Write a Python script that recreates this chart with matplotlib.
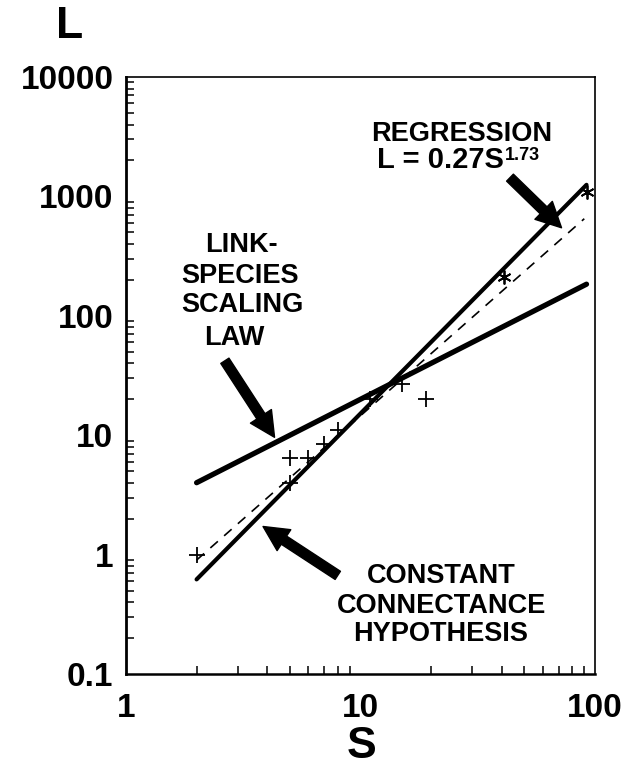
import matplotlib.pyplot as plt
from matplotlib.patches import FancyArrowPatch
from matplotlib.ticker import FixedLocator, LogLocator, NullFormatter

plt.rcParams['font.family'] = ['Liberation Sans', 'DejaVu Sans']
plt.rcParams['font.weight'] = 'bold'

# food webs, S species and L links (plus markers)
webs_s = [2, 5, 5, 6, 7, 8, 11, 15, 19]
webs_l = [1, 4, 6.5, 6.5, 8.5, 11, 20, 27, 20]
# the two big webs (asterisks)
big_s = [41, 92]
big_l = [210, 1080]

# model lines, end points
line_s = [2, 92]
link_species_l = [4, 184]
const_conn_l = [0.62, 1250]
regr_s = [2, 90]
regr_l = [0.9, 650]

x_ticks = [1, 10, 100]
x_labels = ['1', '10', '100']
y_ticks = [0.1, 1, 10, 100, 1000, 10000]
y_labels = ['0.1', '1', '10', '100', '1000', '10000']

W, H = 625, 772


def px(x, y):
    # pixel position -> figure fraction
    return x / W, 1 - y / H


fig = plt.figure(figsize=(W / 100, H / 100), dpi=100)
ax = fig.add_axes([126 / W, 1 - 674 / H, (595 - 126) / W, (674 - 77) / H])
ax.set_xscale('log')
ax.set_yscale('log')
ax.set_xlim(1, 100)
ax.set_ylim(0.1, 10000)

ax.plot(line_s, link_species_l, color='black', lw=3.8, solid_capstyle='round')
ax.plot(line_s, const_conn_l, color='black', lw=3.0, solid_capstyle='round')
ax.plot(regr_s, regr_l, color='black', lw=1.2, dashes=(6, 5))
ax.plot(webs_s, webs_l, ls='none', marker='+', ms=11, mew=1.3, color='black')
ax.plot(big_s, big_l, ls='none', marker=(6, 2, 0), ms=10, mew=1.3, color='black')

# arrows pointing at the lines
arrow_style = 'simple,head_length=18,head_width=18,tail_width=7'
for tail, tip in [((2.64, 42), (4.3, 9.6)),
                  ((8.0, 0.67), (3.84, 1.72)),
                  ((43.4, 1436), (72, 546))]:
    ax.add_patch(FancyArrowPatch(tail, tip, arrowstyle=arrow_style,
                                 mutation_scale=1, color='black',
                                 shrinkA=0, shrinkB=0))

ax.xaxis.set_major_locator(FixedLocator(x_ticks))
ax.set_xticklabels(x_labels)
ax.yaxis.set_major_locator(FixedLocator(y_ticks))
ax.set_yticklabels(y_labels)
ax.xaxis.set_minor_locator(LogLocator(base=10, subs=range(2, 10)))
ax.yaxis.set_minor_locator(LogLocator(base=10, subs=range(2, 10), numticks=20))
ax.xaxis.set_minor_formatter(NullFormatter())
ax.yaxis.set_minor_formatter(NullFormatter())
ax.tick_params(which='major', length=0, labelsize=24)
ax.tick_params(axis='x', which='major', pad=14)
ax.tick_params(axis='y', which='major', pad=9)
ax.tick_params(which='minor', direction='in', length=6, width=1.1,
               top=False, right=False)
for side, lw in [('left', 2.0), ('bottom', 1.8), ('top', 1.2), ('right', 1.2)]:
    ax.spines[side].set_linewidth(lw)

fig.text(*px(70, 26), 'L', fontsize=32, ha='center', va='center')
fig.text(*px(362, 746), 'S', fontsize=32, ha='center', va='center')

fs = 19.5
for txt, x, y in [('LINK-', 241, 245), ('SPECIES', 240, 276),
                  ('SCALING', 242, 305), ('LAW', 234, 338),
                  ('REGRESSION', 462, 134),
                  ('CONSTANT', 441, 576), ('CONNECTANCE', 441, 606),
                  ('HYPOTHESIS', 441, 634)]:
    fig.text(*px(x, y), txt, fontsize=fs, ha='center', va='center')
fig.text(*px(377, 160), 'L = 0.27S', fontsize=21, ha='left', va='center')
fig.text(*px(505, 155), '1.73', fontsize=13, ha='left', va='center')

fig.savefig('out.png', dpi=100)
